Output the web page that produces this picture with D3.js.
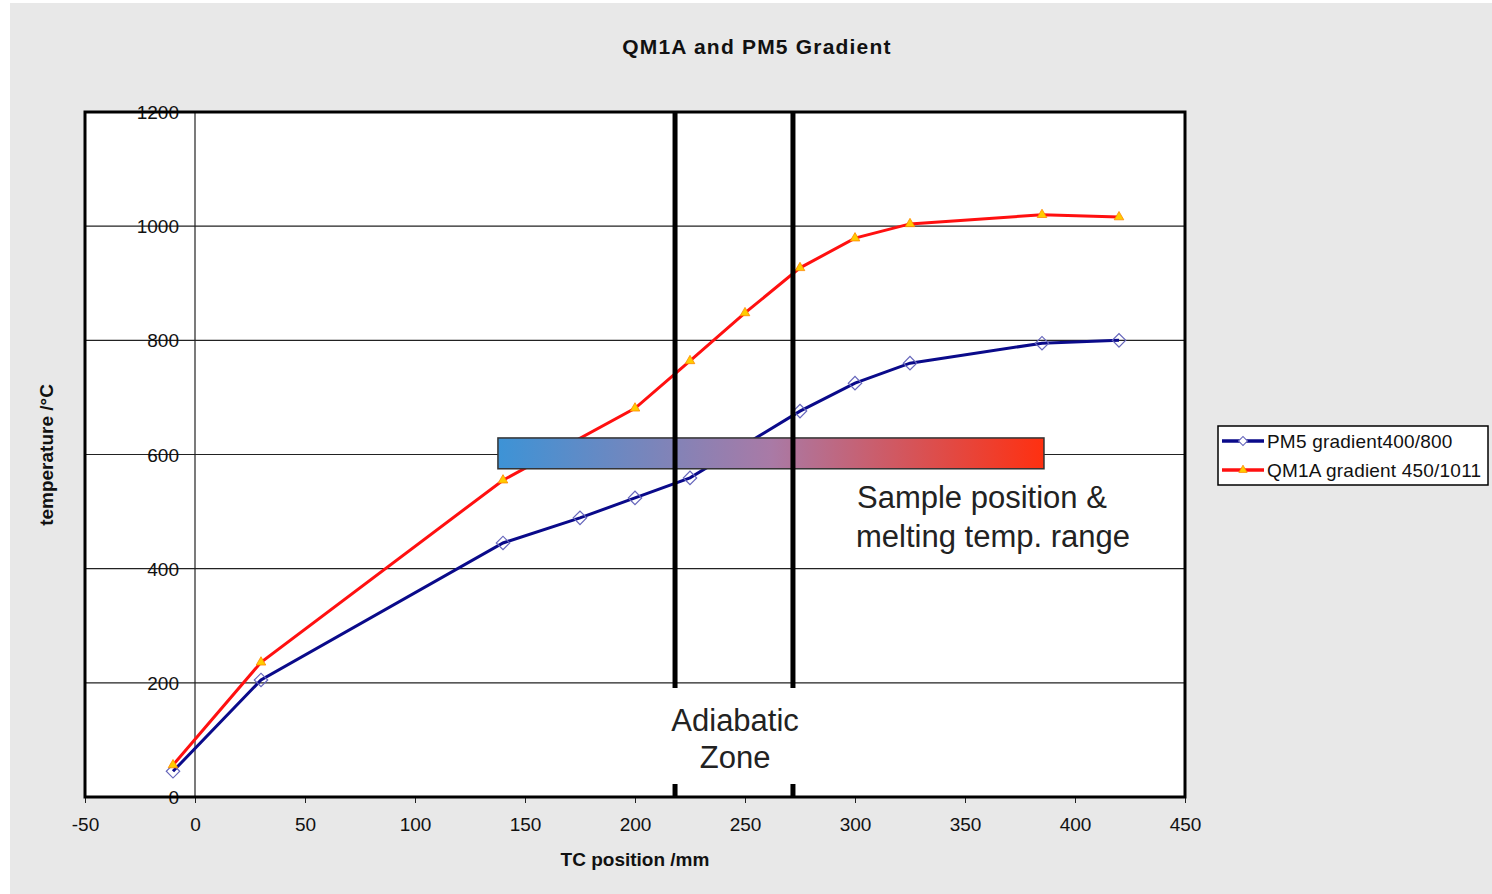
<!DOCTYPE html>
<html><head><meta charset="utf-8">
<script src="https://cdn.jsdelivr.net/npm/d3@7"></script>
<style>body{margin:0;background:#fff;} text{font-family:"Liberation Sans",Arial,sans-serif;}</style>
</head><body>
<svg id="chart" width="1492" height="894"></svg>
<script>
const pm5X = [-10, 30, 140, 175, 200, 225, 275, 300, 325, 385, 420];
const pm5Y = [45, 205, 445, 489, 524, 559, 676, 725, 760, 795, 800];
const qm1aX = [-10, 30, 140, 200, 225, 250, 275, 300, 325, 385, 420];
const qm1aY = [56, 236, 555, 681, 764, 848, 927, 979, 1004, 1020, 1016];
const xTicks = [-50, 0, 50, 100, 150, 200, 250, 300, 350, 400, 450];
const yTicks = [0, 200, 400, 600, 800, 1000, 1200];
const adiabaticX = [218.2, 271.8];
const sampleRange = {x0: 137.7, x1: 385.9, y0: 575, y1: 629};
const seriesNames = ["PM5 gradient400/800", "QM1A gradient 450/1011"];

const svg = d3.select("#chart");
svg.append("rect").attr("x",10).attr("y",3).attr("width",1482).attr("height",891).attr("fill","#e8e8e8");

const L=85, R=1185, T=112, B=797;
const x = d3.scaleLinear().domain([-50,450]).range([L,R]);
const y = d3.scaleLinear().domain([0,1200]).range([B,T]);

svg.append("rect").attr("x",L).attr("y",T).attr("width",R-L).attr("height",B-T).attr("fill","#fff");

// gridlines
svg.append("g").selectAll("line").data(yTicks).join("line")
  .attr("x1",L).attr("x2",R).attr("y1",d=>y(d)).attr("y2",d=>y(d))
  .attr("stroke","#222").attr("stroke-width",1.2);

// y axis at x=0
svg.append("line").attr("x1",x(0)).attr("x2",x(0)).attr("y1",T).attr("y2",B).attr("stroke","#222").attr("stroke-width",1.2);
svg.append("g").selectAll("text").data(yTicks).join("text")
  .attr("x",x(0)-16).attr("y",d=>y(d)+7).attr("text-anchor","end")
  .attr("font-size",19).attr("fill","#111").text(d=>d);

// x axis
const xAxis = d3.axisBottom(x).tickValues(xTicks).tickSize(6).tickPadding(15).tickFormat(d=>String(d));
const gx = svg.append("g").attr("transform",`translate(0,${B})`).call(xAxis);
gx.select(".domain").remove();
gx.selectAll("line").attr("stroke","#222");
gx.selectAll("text").attr("font-size",19).attr("fill","#111").style("font-family","Liberation Sans, Arial, sans-serif");

const line = d3.line().x(d=>x(d[0])).y(d=>y(d[1]));
const pm5 = pm5X.map((d,i)=>[d,pm5Y[i]]);
const qm = qm1aX.map((d,i)=>[d,qm1aY[i]]);

svg.append("path").datum(pm5).attr("d",line).attr("fill","none").attr("stroke","#0a0a8a").attr("stroke-width",3);
svg.append("path").datum(qm).attr("d",line).attr("fill","none").attr("stroke","#ff1010").attr("stroke-width",3);

const diamond = d3.symbol().type(d3.symbolSquare).size(90);
svg.append("g").selectAll("path").data(pm5).join("path")
  .attr("transform",d=>`translate(${x(d[0])},${y(d[1])}) rotate(45)`).attr("d",diamond)
  .attr("fill","none").attr("stroke","#6666bb").attr("stroke-width",1.2);
const tri = d3.symbol().type(d3.symbolTriangle).size(40);
svg.append("g").selectAll("path").data(qm).join("path")
  .attr("transform",d=>`translate(${x(d[0])},${y(d[1])})`).attr("d",tri)
  .attr("fill","#ffcc00").attr("stroke","#ff8800").attr("stroke-width",0.8);

// gradient bar
const defs = svg.append("defs");
const grad = defs.append("linearGradient").attr("id","g1");
grad.append("stop").attr("offset","0%").attr("stop-color","#3d93d6");
grad.append("stop").attr("offset","50%").attr("stop-color","#a97aa6");
grad.append("stop").attr("offset","100%").attr("stop-color","#ff3010");
svg.append("rect").attr("x",x(sampleRange.x0)).attr("y",y(sampleRange.y1))
  .attr("width",x(sampleRange.x1)-x(sampleRange.x0)).attr("height",y(sampleRange.y0)-y(sampleRange.y1))
  .attr("fill","url(#g1)").attr("stroke","#333").attr("stroke-width",1.5);

// adiabatic lines
svg.append("g").selectAll("line").data(adiabaticX).join("line")
  .attr("x1",d=>x(d)).attr("x2",d=>x(d)).attr("y1",T).attr("y2",B)
  .attr("stroke","#000").attr("stroke-width",5);

// plot border
svg.append("rect").attr("x",L).attr("y",T).attr("width",R-L).attr("height",B-T).attr("fill","none").attr("stroke","#000").attr("stroke-width",3);

// annotations
svg.append("rect").attr("x",x(212)).attr("y",688).attr("width",x(278)-x(212)).attr("height",96).attr("fill","#fff");
svg.append("text").attr("x",x(245.5)).attr("y",731).attr("text-anchor","middle").attr("font-size",31).attr("fill","#222").text("Adiabatic");
svg.append("text").attr("x",x(245.5)).attr("y",768).attr("text-anchor","middle").attr("font-size",31).attr("fill","#222").text("Zone");
svg.append("text").attr("x",857).attr("y",508).attr("font-size",31).attr("fill","#222").text("Sample position &");
svg.append("text").attr("x",856).attr("y",547).attr("font-size",31).attr("fill","#222").text("melting temp. range");

// titles
svg.append("text").attr("x",757).attr("y",54).attr("text-anchor","middle").attr("font-size",21).attr("letter-spacing",1.2).attr("font-weight","bold").attr("fill","#111").text("QM1A and PM5 Gradient");
svg.append("text").attr("x",635).attr("y",866).attr("text-anchor","middle").attr("font-size",19).attr("font-weight","bold").attr("fill","#111").text("TC position /mm");
svg.append("text").attr("transform","translate(53,455) rotate(-90)").attr("text-anchor","middle").attr("font-size",19).attr("font-weight","bold").attr("fill","#111").text("temperature /°C");

// legend
const lg = svg.append("g");
lg.append("rect").attr("x",1218).attr("y",426).attr("width",270).attr("height",59).attr("fill","#fff").attr("stroke","#000").attr("stroke-width",1.5);
const colors = ["#0a0a8a","#ff1010"];
seriesNames.forEach((n,i)=>{
  const yy = 441 + i*29;
  lg.append("line").attr("x1",1222).attr("x2",1264).attr("y1",yy).attr("y2",yy).attr("stroke",colors[i]).attr("stroke-width",3.5);
  if(i===0){
    lg.append("path").attr("transform",`translate(1243,${yy}) rotate(45)`).attr("d",d3.symbol().type(d3.symbolSquare).size(40)).attr("fill","#fff").attr("stroke","#6666bb").attr("stroke-width",1);
  } else {
    lg.append("path").attr("transform",`translate(1243,${yy})`).attr("d",d3.symbol().type(d3.symbolTriangle).size(30)).attr("fill","#ffcc00").attr("stroke","#ff8800").attr("stroke-width",0.8);
  }
  lg.append("text").attr("x",1267).attr("y",yy+7).attr("font-size",19).attr("letter-spacing",0.2).attr("fill","#111").text(n);
});
</script>
</body></html>
